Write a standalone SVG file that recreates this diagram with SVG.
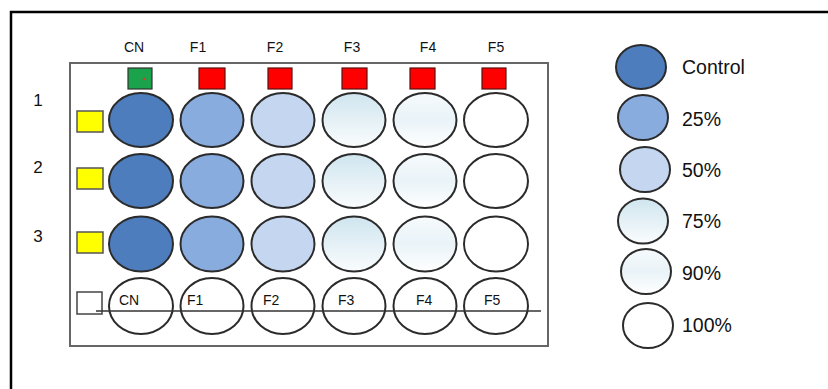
<svg xmlns="http://www.w3.org/2000/svg" width="828" height="389" viewBox="0 0 828 389">
<defs>
<linearGradient id="g75" x1="0" y1="0" x2="0" y2="1">
<stop offset="0" stop-color="#cfe5ef"/><stop offset="1" stop-color="#fafcfd"/>
</linearGradient>
<linearGradient id="g90" x1="0" y1="0" x2="0" y2="1">
<stop offset="0" stop-color="#f6fafc"/><stop offset="0.5" stop-color="#e9f3f8"/><stop offset="1" stop-color="#ffffff"/>
</linearGradient>
</defs>
<style>
.w{stroke:#2b2b2b;stroke-width:2}
.c0{fill:#4d7dbd}.c25{fill:#89acdf}.c50{fill:#c5d6f0}.c75{fill:url(#g75)}.c90{fill:url(#g90)}.c100{fill:#ffffff}
.t{font-family:"Liberation Sans",Arial,sans-serif;fill:#111}
.red{fill:#ff0000;stroke:#5a1010;stroke-width:1.2}
.yel{fill:#ffff00;stroke:#555;stroke-width:1.5}
</style>
<rect width="828" height="389" fill="#ffffff"/>
<rect id="frame" x="11" y="12" width="830" height="400" fill="none" stroke="#000" stroke-width="2.5"/>
<g id="plate">
<rect x="70" y="63" width="478" height="283" fill="#ffffff" stroke="#666" stroke-width="2"/>
</g>
<g id="column-labels" class="t" font-size="14" text-anchor="middle">
<text x="134" y="52">CN</text><text x="198" y="52">F1</text><text x="275" y="52">F2</text>
<text x="352" y="52">F3</text><text x="428" y="52">F4</text><text x="496" y="52">F5</text>
</g>
<g id="row-labels" class="t" font-size="17" text-anchor="middle">
<text x="38" y="106">1</text><text x="38" y="173">2</text><text x="38" y="242">3</text>
</g>
<g id="markers">
<rect x="128" y="68" width="24" height="21" fill="#1aa34a" stroke="#333" stroke-width="1.2"/>
<circle cx="144" cy="79" r="1.3" fill="#d04030"/>
<rect class="red" x="199" y="68" width="26" height="21"/>
<rect class="red" x="268" y="68" width="24" height="21"/>
<rect class="red" x="342" y="68" width="25" height="21"/>
<rect class="red" x="410" y="68" width="25" height="21"/>
<rect class="red" x="482" y="68" width="24" height="21"/>
<rect class="yel" x="77" y="111" width="26" height="21"/>
<rect class="yel" x="77" y="168" width="26" height="21"/>
<rect class="yel" x="77" y="232" width="26" height="21"/>
<rect x="77" y="292" width="25" height="22" fill="none" stroke="#444" stroke-width="1.5"/>
</g>
<g id="row1">
<ellipse class="w c0" cx="141" cy="120" rx="32" ry="27"/>
<ellipse class="w c25" cx="212" cy="120" rx="31.5" ry="27"/>
<ellipse class="w c50" cx="283" cy="120" rx="31.5" ry="27"/>
<ellipse class="w c75" cx="354" cy="120" rx="31.5" ry="27"/>
<ellipse class="w c90" cx="425" cy="120" rx="31.5" ry="27"/>
<ellipse class="w c100" cx="496" cy="120" rx="32" ry="27"/>
</g>
<g id="row2">
<ellipse class="w c0" cx="141" cy="181" rx="32" ry="27"/>
<ellipse class="w c25" cx="212" cy="181" rx="31.5" ry="27"/>
<ellipse class="w c50" cx="283" cy="181" rx="31.5" ry="27"/>
<ellipse class="w c75" cx="354" cy="181" rx="31.5" ry="27"/>
<ellipse class="w c90" cx="425" cy="181" rx="31.5" ry="27"/>
<ellipse class="w c100" cx="496" cy="181" rx="32" ry="27"/>
</g>
<g id="row3">
<ellipse class="w c0" cx="141" cy="244" rx="32" ry="27.5"/>
<ellipse class="w c25" cx="212" cy="244" rx="31.5" ry="27.5"/>
<ellipse class="w c50" cx="283" cy="244" rx="31.5" ry="27.5"/>
<ellipse class="w c75" cx="354" cy="244" rx="31.5" ry="27.5"/>
<ellipse class="w c90" cx="425" cy="244" rx="31.5" ry="27.5"/>
<ellipse class="w c100" cx="496" cy="244" rx="32" ry="27.5"/>
</g>
<g id="row4">
<ellipse class="w" fill="none" cx="141" cy="306" rx="32" ry="28"/>
<ellipse class="w" fill="none" cx="212" cy="306" rx="31.5" ry="28"/>
<ellipse class="w" fill="none" cx="283" cy="306" rx="31.5" ry="28"/>
<ellipse class="w" fill="none" cx="354" cy="306" rx="31.5" ry="28"/>
<ellipse class="w" fill="none" cx="425" cy="306" rx="31.5" ry="28"/>
<ellipse class="w" fill="none" cx="496" cy="306" rx="32" ry="28"/>
</g>
<g id="connectors">
<line x1="96" y1="311" x2="541" y2="311" stroke="#333" stroke-width="1.6"/>
</g>
<g id="row4-labels" class="t" font-size="14">
<text x="119" y="305">CN</text><text x="187" y="305">F1</text><text x="263" y="305">F2</text>
<text x="338" y="305">F3</text><text x="416" y="305">F4</text><text x="484" y="305">F5</text>
</g>
<g id="legend">
<ellipse class="w c0" cx="641" cy="67" rx="25" ry="22"/>
<ellipse class="w c25" cx="643" cy="117.5" rx="25" ry="22.5"/>
<ellipse class="w c50" cx="645" cy="169.5" rx="25" ry="22.5"/>
<ellipse class="w c75" cx="643" cy="221" rx="25" ry="22.5"/>
<ellipse class="w c90" cx="646" cy="271.5" rx="25" ry="22.5"/>
<ellipse class="w c100" cx="648" cy="325.5" rx="25" ry="22.5"/>
<g class="t" font-size="19.5">
<text x="682" y="74">Control</text>
<text x="682" y="126">25%</text>
<text x="682" y="177">50%</text>
<text x="682" y="228">75%</text>
<text x="682" y="280">90%</text>
<text x="682" y="332">100%</text>
</g>
</g>
</svg>
